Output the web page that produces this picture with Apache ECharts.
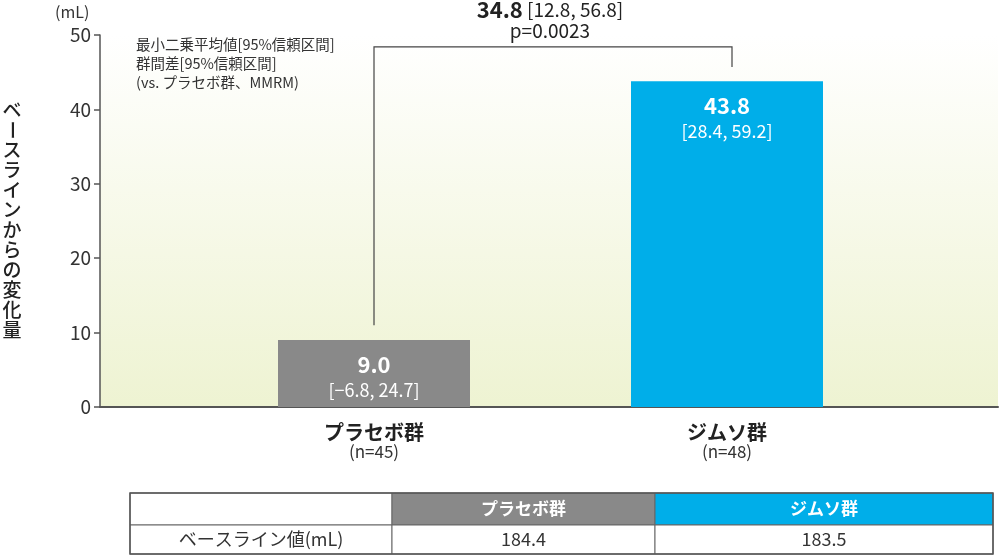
<!DOCTYPE html>
<html><head><meta charset="utf-8">
<script src="https://cdn.jsdelivr.net/npm/echarts@6/dist/echarts.min.js"></script>
<style>html,body{margin:0;padding:0;background:#fff}#c{width:1000px;height:556px}</style>
</head><body><div id="c"></div>
<script>
const categories = ['プラセボ群', 'ジムソ群'];
const groupN = ['(n=45)', '(n=48)'];
const lsMeans = [9.0, 43.8];
const ciLabels = ['[−6.8, 24.7]', '[28.4, 59.2]'];
const yTicks = [0, 10, 20, 30, 40, 50];
const diffValue = '34.8';
const diffCI = '[12.8, 56.8]';
const pValue = 'p=0.0023';
const bracketLevels = [11.0, 48.4, 45.7];
const baselineLabel = 'ベースライン値(mL)';
const baselineValues = ['184.4', '183.5'];
const legendLines = ['最小二乗平均値[95%信頼区間]', '群間差[95%信頼区間]', '(vs. プラセボ群、MMRM)'];
const yAxisTitle = 'ベースラインからの変化量';
const yUnit = '(mL)';
const barColors = ['#898989', '#00aee9'];

const FONT = '"Noto Sans CJK JP", "Noto Sans", sans-serif';
const chart = echarts.init(document.getElementById('c'), null, {renderer: 'canvas'});

// vertical y-axis title (upright stacked characters)
const titleEls = Array.from(yAxisTitle).map((ch, i) => {
  const isBar = ch === 'ー';
  return {
    type: 'text',
    x: 12, y: 110 + i * 20,
    rotation: isBar ? -Math.PI / 2 : 0,
    style: {text: ch, font: '500 19px ' + FONT, fill: '#222', align: 'center', verticalAlign: 'middle'}
  };
});

// table
const colX = [130, 392, 655, 993];
const rowY = [493, 525, 554];
const headerFill = ['#ffffff', barColors[0], barColors[1]];
const headerTexts = ['', categories[0], categories[1]];
const rowTexts = [baselineLabel, baselineValues[0], baselineValues[1]];
const tableEls = [];
for (let c = 0; c < 3; c++) {
  tableEls.push({type: 'rect', shape: {x: colX[c], y: rowY[0], width: colX[c+1]-colX[c], height: rowY[1]-rowY[0]},
    style: {fill: headerFill[c], stroke: '#666', lineWidth: 1}});
  tableEls.push({type: 'rect', shape: {x: colX[c], y: rowY[1], width: colX[c+1]-colX[c], height: rowY[2]-rowY[1]},
    style: {fill: '#fff', stroke: '#666', lineWidth: 1}});
  tableEls.push({type: 'text', x: (colX[c]+colX[c+1])/2, y: (rowY[0]+rowY[1])/2,
    style: {text: headerTexts[c], font: 'bold 17px ' + FONT, fill: '#fff', align: 'center', verticalAlign: 'middle'}});
  tableEls.push({type: 'text', x: (colX[c]+colX[c+1])/2, y: (rowY[1]+rowY[2])/2,
    style: {text: rowTexts[c], font: '18px ' + FONT, fill: '#333', align: 'center', verticalAlign: 'middle'}});
}
tableEls.push({type: 'rect', shape: {x: colX[0], y: rowY[0], width: colX[3]-colX[0], height: rowY[2]-rowY[0]},
  style: {fill: 'none', stroke: '#555', lineWidth: 1.5}});

const option = {
  animation: false,
  textStyle: {fontFamily: FONT},
  grid: [
    {left: 100, right: 2, top: 35, bottom: 149, show: true, borderWidth: 0,
     backgroundColor: new echarts.graphic.LinearGradient(0, 0, 0, 1, [
       {offset: 0, color: '#ffffff'}, {offset: 1, color: '#eef3d2'}])},
    {left: 197.5, right: 96.5, top: 35, bottom: 149}
  ],
  xAxis: [
    {gridIndex: 0, type: 'category', data: [''],
     axisLine: {lineStyle: {color: '#555', width: 2}}, axisTick: {show: false}, axisLabel: {show: false}},
    {gridIndex: 1, type: 'category', data: categories,
     axisLine: {show: false}, axisTick: {show: false},
     axisLabel: {margin: 14, interval: 0,
       formatter: (v, i) => '{a|' + v + '}\n{b|' + groupN[i] + '}',
       rich: {a: {fontSize: 20, fontWeight: 'bold', color: '#222', lineHeight: 22, fontFamily: FONT},
              b: {fontSize: 17, color: '#333', lineHeight: 18, fontFamily: FONT}}}}
  ],
  yAxis: [
    {gridIndex: 0, type: 'value', min: 0, max: 50, interval: 10,
     axisLine: {show: true, lineStyle: {color: '#555', width: 1.5}},
     axisTick: {show: true, length: 6, lineStyle: {color: '#555', width: 1.5}},
     axisLabel: {fontSize: 19, color: '#333', margin: 9, fontFamily: FONT,
       formatter: v => yTicks.includes(v) ? String(v) : ''},
     splitLine: {show: false}},
    {gridIndex: 1, type: 'value', min: 0, max: 50, interval: 10, show: false, splitLine: {show: false}}
  ],
  series: [
    {type: 'bar', xAxisIndex: 1, yAxisIndex: 1, barWidth: 192,
     data: lsMeans.map((v, i) => ({value: v, itemStyle: {color: barColors[i]}})),
     label: {show: true, position: 'insideTop', distance: 12,
       formatter: p => '{v|' + p.value.toFixed(1) + '}\n{c|' + ciLabels[p.dataIndex] + '}',
       rich: {v: {fontSize: 22, fontWeight: 'bold', color: '#fff', lineHeight: 26, fontFamily: FONT},
              c: {fontSize: 18, color: '#fff', lineHeight: 24, fontFamily: FONT}}}},
    {type: 'custom', xAxisIndex: 1, yAxisIndex: 1, data: [[0, 0]], z: 5,
     renderItem: (params, api) => {
       const p0 = api.coord([0, bracketLevels[0]]);
       const p1 = api.coord([0, bracketLevels[1]]);
       const p2 = api.coord([1, bracketLevels[1]]);
       const p3 = api.coord([1, bracketLevels[2]]);
       const off = 5;
       const mid = (p1[0] + p2[0] + off) / 2 - 3;
       return {type: 'group', children: [
         {type: 'polyline', shape: {points: [p0, p1, [p2[0] + off, p2[1]], [p3[0] + off, p3[1]]]},
          style: {stroke: '#444', lineWidth: 1.2, fill: null}},
         {type: 'text', x: mid, y: p1[1] - 37,
          style: {text: '{a|' + diffValue + '}{b| ' + diffCI + '}', align: 'center', verticalAlign: 'middle',
            rich: {a: {fontSize: 22, fontWeight: 'bold', fill: '#222', fontFamily: FONT},
                   b: {fontSize: 19, fill: '#222', fontFamily: FONT}}}},
         {type: 'text', x: mid, y: p1[1] - 16,
          style: {text: pValue, font: '19px ' + FONT, fill: '#222', align: 'center', verticalAlign: 'middle'}}
       ]};
     }}
  ],
  graphic: [
    {type: 'text', x: 55, y: 12, style: {text: yUnit, font: '16px ' + FONT, fill: '#333', verticalAlign: 'middle'}},
    ...legendLines.map((t, i) => ({type: 'text', x: 136, y: 44 + i * 19,
      style: {text: t, font: '14.5px ' + FONT, fill: '#333', verticalAlign: 'middle'}})),
    ...titleEls,
    ...tableEls
  ]
};
chart.setOption(option);
</script></body></html>
